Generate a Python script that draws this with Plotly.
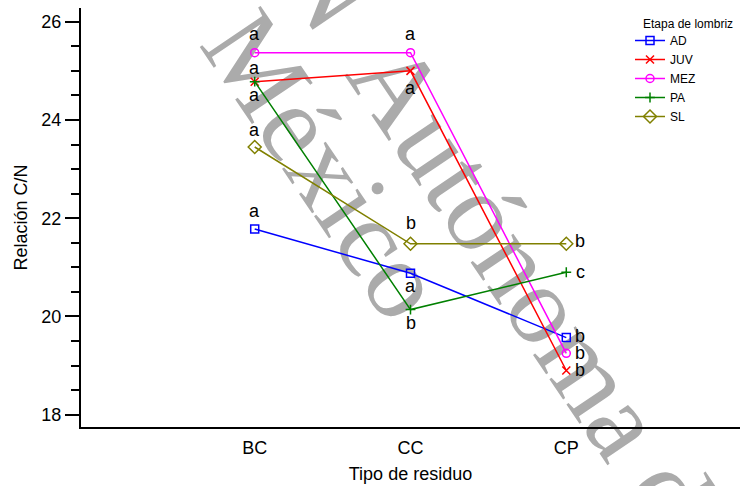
import plotly.graph_objects as go

# ---------------- data ----------------
categories = ["BC", "CC", "CP"]
series_names = ["AD", "JUV", "MEZ", "PA", "SL"]
ad = [21.78, 20.88, 19.57]
juv = [24.78, 25.00, 18.90]
mez = [25.37, 25.37, 19.25]
pa = [24.78, 20.14, 20.90]
sl = [23.45, 21.48, 21.48]
ad_letters = ["a", "a", "b"]
juv_letters = ["a", "a", "b"]
mez_letters = ["a", "a", "b"]
pa_letters = ["a", "b", "c"]
sl_letters = ["a", "b", "b"]
y_ticks = [18, 20, 22, 24, 26]

values = [ad, juv, mez, pa, sl]
letters = [ad_letters, juv_letters, mez_letters, pa_letters, sl_letters]

# ---------------- style ----------------
colors = ["#0000FF", "#FF0000", "#FF00FF", "#008000", "#808000"]
symbols = ["square-open", "x-thin", "circle-open", "cross-thin", "diamond-open"]
msizes = [8, 8, 8, 7, 10]
# label offsets (xshift, yshift) in px for each series / category
offsets = [
    [(0, 18), (0, -13), (14, 2)],
    [(0, 14), (0, -17), (14, 1)],
    [(0, 19), (0, 19), (14, 0)],
    [(0, -13), (0, -13), (14, 0)],
    [(0, 17), (0, 21), (14, 3)],
]
FONT = "Liberation Sans, Arial, sans-serif"

fig = go.Figure()
for name, vals, col, sym, ms in zip(series_names, values, colors, symbols, msizes):
    fig.add_trace(go.Scatter(
        x=categories, y=vals, name=name, mode="lines+markers",
        line=dict(color=col, width=1.5),
        marker=dict(symbol=sym, size=ms, color=col, line=dict(color=col, width=1.5)),
    ))

for vals, labs, offs in zip(values, letters, offsets):
    for cat, v, lab, (dx, dy) in zip(categories, vals, labs, offs):
        fig.add_annotation(x=cat, y=v, text=lab, showarrow=False,
                           xref="x", yref="y", xshift=dx, yshift=dy,
                           xanchor="center", yanchor="middle",
                           font=dict(size=18, color="black", family=FONT))

L, T, W, H = 81, 8, 659, 419
def px2paper(px, py):
    return (px - L) / W, (T + H - py) / H

# legend title
tx, ty = px2paper(641, 24)
fig.add_annotation(x=tx, y=ty, xref="paper", yref="paper",
                   text="Etapa de lombriz", showarrow=False, xanchor="left", yanchor="middle",
                   font=dict(size=12, color="black", family=FONT))

# watermark (drawn below the data)
wm = [("N", 338, -22), ("Autónoma de", 555, 298), ("México", 335, 158)]
for txt, cx, cy in wm:
    xp, yp = px2paper(cx, cy)
    fig.add_shape(type="rect", xref="paper", yref="paper",
                  x0=xp - 0.001, x1=xp + 0.001, y0=yp - 0.001, y1=yp + 0.001,
                  line=dict(width=0), fillcolor="rgba(0,0,0,0)", layer="below",
                  label=dict(text=txt, textangle=56, textposition="middle center",
                             font=dict(size=112, color="#ABABAB",
                                       family="Liberation Serif")))

lx, ly = px2paper(630, 26)
fig.update_layout(
    width=740, height=486,
    margin=dict(l=L, r=0, t=T, b=486 - T - H),
    paper_bgcolor="white", plot_bgcolor="rgba(0,0,0,0)",
    font=dict(family=FONT, size=18, color="black"),
    showlegend=True,
    legend=dict(x=lx, y=ly, xanchor="left", yanchor="top",
                bgcolor="rgba(0,0,0,0)", borderwidth=0,
                font=dict(size=12, family=FONT, color="black")),
    xaxis=dict(type="category", categoryorder="array", categoryarray=categories,
               range=[-1.115, 3.115], showline=True, linewidth=2, linecolor="black",
               ticks="", showgrid=False, zeroline=False, automargin=False,
               tickfont=dict(size=18), ticklabelstandoff=3,
               title=dict(text="Tipo de residuo", font=dict(size=18), standoff=11)),
    yaxis=dict(range=[17.75, 26.28], tickvals=y_ticks, ticks="outside", ticklen=14,
               tickwidth=2, tickcolor="black", showline=True, linewidth=2, linecolor="black",
               showgrid=False, zeroline=False, tickfont=dict(size=18), automargin=False,
               minor=dict(dtick=0.5, tick0=18, ticks="outside", ticklen=8, tickwidth=2,
                          tickcolor="black", showgrid=False),
               title=dict(text="Relación C/N", font=dict(size=18), standoff=9)),
)

fig.write_html("out.html", config={"displayModeBar": False},
               post_script="document.body.style.margin='0';document.body.style.overflow='hidden';")
